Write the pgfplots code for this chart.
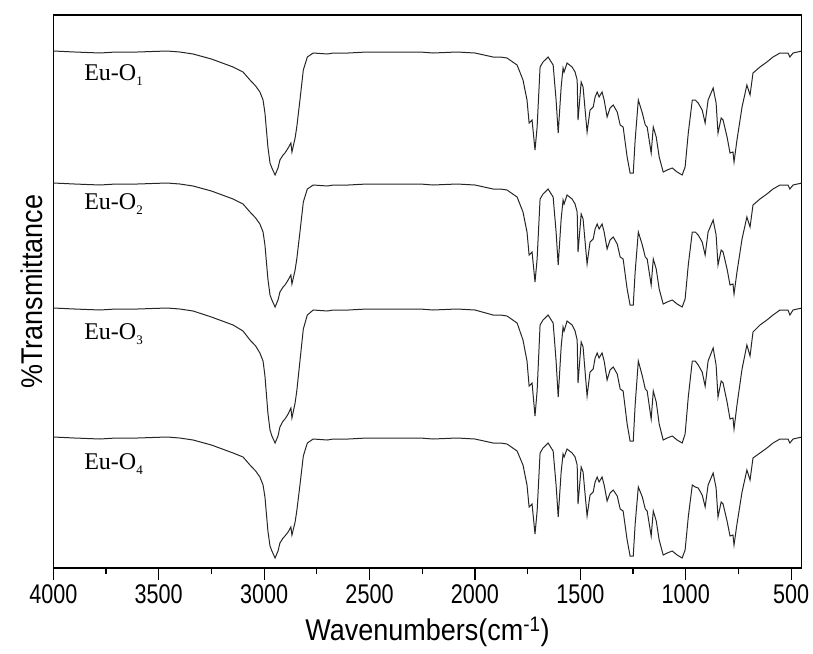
\documentclass[border=0pt]{standalone}
\usepackage{pgfplots}
\pgfplotsset{compat=1.18}
\usepackage{pgfplotstable}
\usepackage{fontspec}
\setmainfont{Liberation Sans}
\newfontfamily\narrowsans[FakeStretch=0.8]{Liberation Sans}
\newfontfamily\labelsans[FakeStretch=0.9]{Liberation Sans}
\newfontfamily\timesfont{Liberation Serif}
\newcommand{\eulab}[1]{{\timesfont\fontsize{24}{28}\selectfont Eu-O\raisebox{-5pt}{\fontsize{13}{15}\selectfont #1}}}
\pgfplotstableread{
w s1 s2 s3 s4
4000 51 183 308 437
3900 52 184 309 438
3778 53 185 310 439
3703 52 184 309 438
3600 52 184 309 438
3461 51 183 308 437
3400 52 184 309 438
3337 54 186 311 440
3250 59 191 317 445
3147 67 199 325 453
3100 72 204 331 457
3067 80 212 340 465
3040 86 218 346 471
3020 92 224 353 477
3005 100 232 361 485
2996 113 245 376 497
2982 147 279 413 531
2972 163 295 430 546
2963 168 300 436 551
2948 175 307 443 558
2934 168 300 436 551
2925 160 292 427 543
2910 155 287 421 538
2901 153 285 419 536
2886 148 280 414 532
2873 143 275 408 527
2868 152 284 418 535
2853 138 270 403 522
2845 127 259 391 511
2830 100 232 361 485
2814 70 202 329 456
2795 57 189 315 443
2767 53 185 310 439
2700 54 186 311 440
2672 53 185 310 439
2600 53 185 310 439
2513 52 184 309 438
2400 52 184 309 438
2260 52 184 309 438
2199 53 185 310 439
2085 52 184 309 438
2000 53 185 310 439
1914 57 189 315 443
1880 57 189 315 443
1848 58 190 316 444
1800 65 197 323 451
1772 80 212 340 465
1753 100 232 361 485
1743 123 255 386 507
1729 120 252 383 504
1715 150 282 416 534
1705 127 259 391 511
1691 67 199 325 453
1677 62 194 320 448
1653 57 189 315 443
1629 65 197 323 451
1615 100 232 361 485
1605 133 265 397 517
1591 87 219 347 472
1582 68 200 327 454
1577 72 204 331 457
1563 63 195 321 449
1539 67 199 325 453
1525 72 204 331 457
1515 80 212 340 465
1511 120 252 383 504
1496 82 214 342 467
1487 87 219 347 472
1468 132 264 396 516
1454 110 242 372 495
1439 107 239 369 492
1430 97 229 358 482
1420 92 224 353 477
1411 97 229 358 482
1397 92 224 353 477
1387 100 232 361 485
1373 117 249 380 501
1359 108 240 370 493
1344 105 237 367 490
1325 112 244 374 496
1311 125 257 389 509
1297 127 259 391 511
1278 157 289 424 540
1264 173 305 441 556
1249 173 305 441 556
1240 140 272 405 524
1225 100 232 361 487
1206 113 245 376 497
1192 125 257 389 509
1183 127 259 391 511
1164 153 285 419 536
1154 127 259 391 511
1140 137 269 402 521
1126 157 289 424 540
1107 172 304 440 555
1088 170 302 438 553
1064 168 300 436 551
1041 172 304 440 555
1017 175 307 443 558
1003 167 299 434 550
988 133 265 397 517
969 100 232 361 485
955 100 232 361 487
941 103 235 365 488
922 110 242 372 495
908 123 255 386 507
894 100 232 361 485
870 88 220 348 473
856 103 235 365 488
847 133 265 397 517
832 118 250 381 502
823 120 252 383 504
804 137 269 402 521
790 153 285 419 536
776 152 284 418 535
771 162 294 429 545
757 140 272 405 524
733 107 239 369 492
710 85 217 345 470
695 95 227 356 480
681 73 205 332 458
648 67 199 325 453
615 62 194 320 448
586 57 189 315 443
553 53 185 310 439
515 53 185 310 439
506 57 189 315 443
491 53 185 310 439
449 51 183 308 437
}\spectra
\begin{document}
\begin{tikzpicture}
\begin{axis}[
  at={(0,0)}, anchor=south west,
  scale only axis,
  width=748.4pt, height=553pt,
  x dir=reverse, y dir=reverse,
  xmin=450, xmax=4000,
  ymin=15, ymax=568,
  xtick={500,1000,...,4000},
  minor x tick num=1,
  xtick pos=bottom,
  ytick=\empty,
  tick align=outside,
  major tick length=12pt,
  minor tick length=6pt,
  every tick/.style={black, line width=1.2pt},
  axis line style={line width=1.3pt},
  /pgf/number format/assume math mode=true,
  /pgf/number format/set thousands separator={},
  xticklabel style={font=\narrowsans\fontsize{27}{30}\selectfont, anchor=north, inner sep=0pt, yshift=-4pt},
  xlabel={Wavenumbers(cm\textsuperscript{-1})},
  ylabel={\%Transmittance},
  xlabel style={font=\labelsans\fontsize{30}{34}\selectfont, at={(axis description cs:0.5,0)}, anchor=center, yshift=-64pt},
  ylabel style={font=\labelsans\fontsize{30}{34}\selectfont, at={(axis description cs:-0.029,0.5)}, anchor=center},
  clip=true,
]
\addplot[line width=1pt, black!85] table[x=w, y=s1] {\spectra};
\addplot[line width=1pt, black!85] table[x=w, y=s2] {\spectra};
\addplot[line width=1pt, black!85] table[x=w, y=s3] {\spectra};
\addplot[line width=1pt, black!85] table[x=w, y=s4] {\spectra};
\node[anchor=west, inner sep=0pt] at (axis cs:3854,75) {\eulab{1}};
\node[anchor=west, inner sep=0pt] at (axis cs:3854,204) {\eulab{2}};
\node[anchor=west, inner sep=0pt] at (axis cs:3854,334) {\eulab{3}};
\node[anchor=west, inner sep=0pt] at (axis cs:3854,464) {\eulab{4}};
\end{axis}
\pgfresetboundingbox
\path[use as bounding box] (-53.3pt,-85pt) rectangle (759.7pt,568pt);
\end{tikzpicture}
\end{document}
